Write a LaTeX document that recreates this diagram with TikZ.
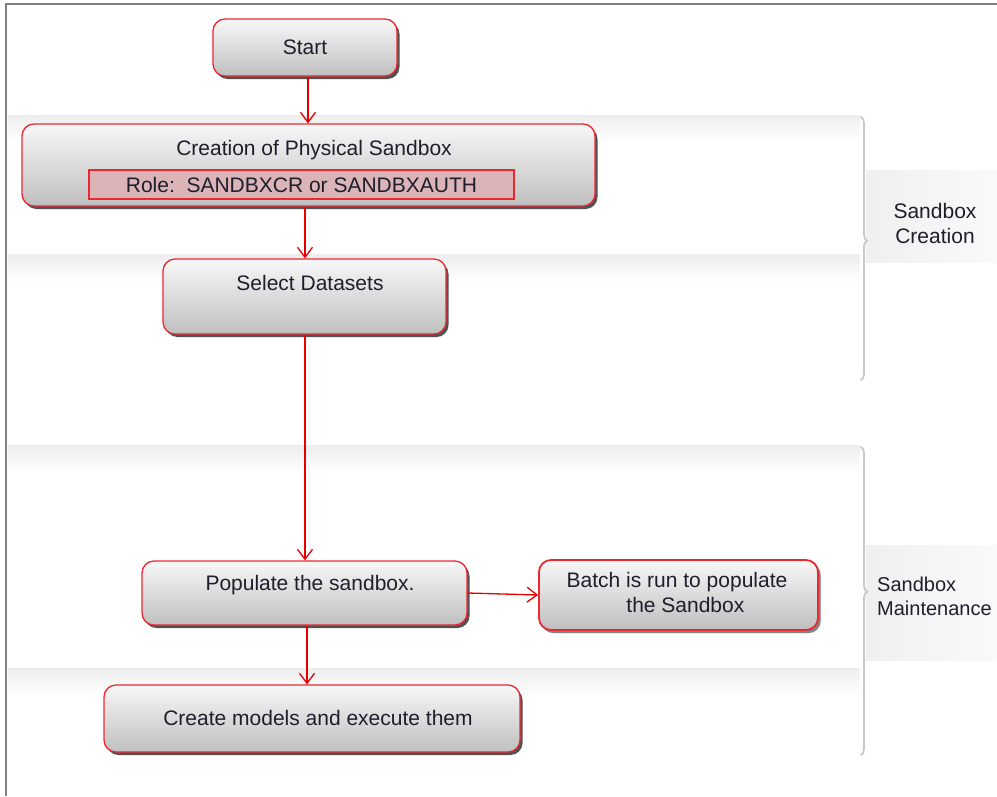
\documentclass[tikz,border=0pt]{standalone}
\usepackage{fontspec}
\setmainfont{Liberation Sans}
\usetikzlibrary{arrows.meta,shadows,decorations.pathreplacing}
\definecolor{txt}{RGB}{30,30,45}
\definecolor{boxred}{RGB}{235,40,50}
\definecolor{rolefill}{RGB}{218,180,182}
\definecolor{bracegray}{RGB}{200,200,200}
\tikzset{
  box/.style={rounded corners=12pt, draw=boxred, line width=1.3pt,
    top color=black!3, bottom color=black!25,
    drop shadow={shadow xshift=2.5pt, shadow yshift=-3pt, fill=black!80, opacity=0.85},
    inner sep=0pt, font=\fontsize{21}{25}\selectfont, text=txt},
  lbl/.style={font=\fontsize{21}{25}\selectfont, text=txt, inner sep=0pt, align=center},
  conn/.style={draw=red!90!black, line width=1.3pt, -{Straight Barb[length=10pt,width=15pt,line width=1.3pt]}},
  band/.style={top color=black!7, bottom color=white, draw=none},
  sidebox/.style={left color=black!6, right color=black!2, draw=none},
  bracestyle/.style={draw=bracegray, line width=1.8pt, line cap=round,
    decorate, decoration={brace, amplitude=6pt}},
}
\begin{document}
\begin{tikzpicture}[x=1pt,y=-1pt]
\useasboundingbox (0,0) rectangle (997,796);
% background bands
\fill[band] (8,115) rectangle (860,140);
\fill[band] (8,254) rectangle (860,282);
\fill[band] (8,445) rectangle (860,472);
\fill[band] (8,668) rectangle (860,695);
% side label areas
\fill[sidebox] (866,170) rectangle (997,262);
\fill[sidebox] (866,545) rectangle (997,660);
% frame
\draw[black!50, line width=2pt] (6,796) -- (6,4) -- (997,4);
% braces
\coordinate (b1a) at (861,117);
\coordinate (b1b) at (861,380);
\coordinate (b2a) at (861,447);
\coordinate (b2b) at (861,755);
\draw[bracestyle, decoration={aspect=0.47}] (b1a) -- (b1b);
\draw[bracestyle, decoration={aspect=0.47}] (b2a) -- (b2b);
\node[lbl] (lab1) at (935,223) {Sandbox\\Creation};
\node[lbl, font=\fontsize{20}{24}\selectfont, align=left, anchor=west] (lab2) at (877,596) {Sandbox\\Maintenance};
% boxes
\node[box, minimum width=184pt, minimum height=57pt] (start) at (305,47.5) {Start};
\node[box, minimum width=573pt, minimum height=82pt] (creation) at (308.5,165) {};
\node[lbl] (creationtxt) at (314,150) {Creation of Physical Sandbox};
\node[draw=boxred, line width=1.4pt, fill=rolefill, minimum width=425pt, minimum height=29pt, inner sep=0pt,
  font=\fontsize{21}{25}\selectfont, text=txt] (role) at (301.5,184.5) {Role:\ \ SANDBXCR or SANDBXAUTH};
\node[box, minimum width=283pt, minimum height=75pt] (select) at (304.5,296.5) {};
\node[lbl] (selecttxt) at (310,283) {Select Datasets};
\node[box, minimum width=325pt, minimum height=64pt] (populate) at (304.5,593) {};
\node[lbl] (populatetxt) at (310,585) {Populate the sandbox.};
\node[box, line width=1.8pt, drop shadow={shadow xshift=3pt, shadow yshift=-3pt, fill=black!35, opacity=0.6},
  minimum width=279pt, minimum height=70pt] (batch) at (678.5,595) {};
\node[lbl] (batchtxt) at (677,592) {Batch is run to populate\\\hspace*{0.8em}the Sandbox};
\node[box, minimum width=416pt, minimum height=67pt] (create) at (312,718.5) {};
\node[lbl] (createtxt) at (318,718) {Create models and execute them};
% connectors
\draw[conn] (start.south -| 308,0) -- (creation.north -| 308,0);
\draw[conn] (creation.south -| 305,0) -- (select.north -| 305,0);
\draw[conn] (select.south -| 305,0) -- (populate.north -| 305,0);
\draw[conn] (populate.east) -- (batch.west);
\draw[conn] (populate.south -| 307,0) -- (create.north -| 307,0);
\end{tikzpicture}
\end{document}
